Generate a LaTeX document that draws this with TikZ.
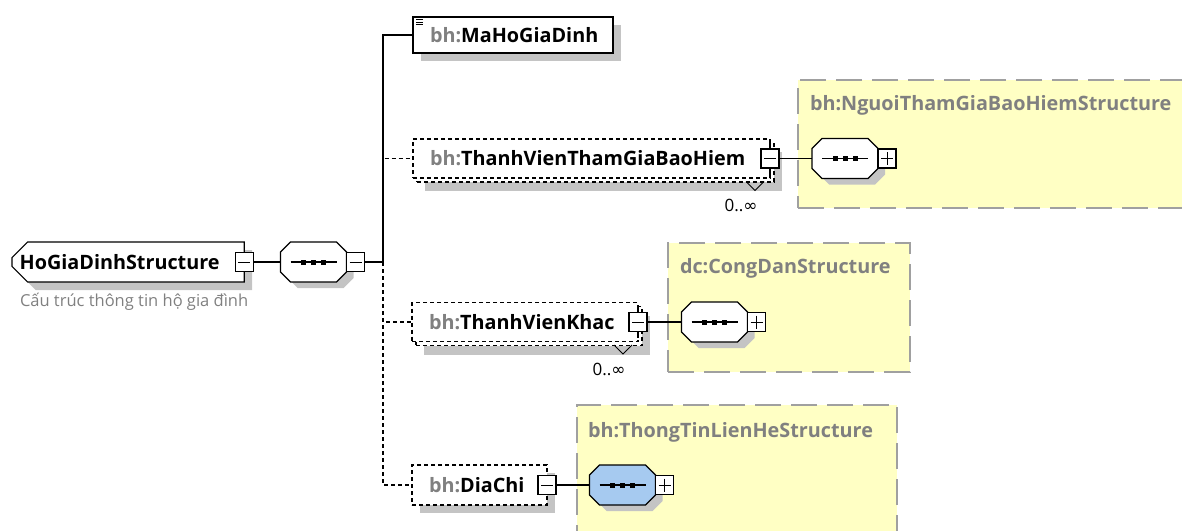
\documentclass[tikz,border=0pt]{standalone}
\usepackage{fontspec}
\setmainfont{Open Sans}
\newfontfamily\symfont{DejaVu Sans}
\usetikzlibrary{positioning, shapes.misc, shadows}
\definecolor{prefixgray}{RGB}{128,128,128}
\definecolor{typeyellow}{RGB}{255,255,196}
\definecolor{typeborder}{RGB}{160,160,160}
\definecolor{seqblue}{RGB}{166,202,240}
\definecolor{shadowgray}{RGB}{196,196,196}
\newcommand{\pfx}[1]{{\color{prefixgray}#1}}

\begin{document}
\begin{tikzpicture}[
        x=1pt, y=-1pt,
        line width=1.2pt,
        every node/.style={inner sep=0pt, outer sep=0pt},
        namefont/.style={font=\fontsize{19.8}{23}\selectfont\bfseries},
        elbox/.style={rectangle, draw, fill=white, namefont, anchor=west, align=left, inner xsep=17pt,
            drop shadow={shadow xshift=8pt, shadow yshift=-8pt, fill=shadowgray, opacity=1}},
        optbox/.style={elbox, dash pattern=on 4pt off 3pt},
        multibox/.style={rectangle, draw, fill=white, namefont, anchor=west, align=left, inner xsep=17pt,
            dash pattern=on 4pt off 3pt,
            drop shadow={shadow xshift=12pt, shadow yshift=-13pt, fill=shadowgray, opacity=1},
            copy shadow={shadow xshift=4pt, shadow yshift=-4pt, draw=black, fill=white, dash pattern=on 4pt off 3pt}},
        rootbox/.style={chamfered rectangle, chamfered rectangle corners={north west, south west},
            chamfered rectangle sep=8pt, draw, fill=white, namefont, anchor=west, align=left, inner xsep=0pt,
            drop shadow={shadow xshift=8pt, shadow yshift=-8pt, fill=shadowgray, opacity=1}},
        pmbox/.style={rectangle, draw, fill=white, minimum width=18pt, minimum height=19pt},
        pmminus/.style={pmbox, path picture={
            \draw[black, line width=1pt] ([xshift=3pt]path picture bounding box.west) -- ([xshift=-3pt]path picture bounding box.east);}},
        pmplus/.style={pmbox, path picture={
            \draw[black, line width=1pt] ([xshift=3pt]path picture bounding box.west) -- ([xshift=-3pt]path picture bounding box.east);
            \draw[black, line width=1pt] ([yshift=-3pt]path picture bounding box.north) -- ([yshift=3pt]path picture bounding box.south);}},
        seqbox/.style={chamfered rectangle, chamfered rectangle xsep=5pt, chamfered rectangle ysep=5pt,
            inner xsep=28pt, inner ysep=15pt, draw, fill=white,
            drop shadow={shadow xshift=7pt, shadow yshift=-6pt, fill=shadowgray, opacity=1},
            path picture={
                \draw[black, line width=1.2pt] ([xshift=-23pt]path picture bounding box.center) -- ([xshift=23pt]path picture bounding box.center);
                \fill[black] ([xshift=-10pt]path picture bounding box.center) +(-2.5,-2.5) rectangle +(2.5,2.5);
                \fill[black] (path picture bounding box.center) +(-2.5,-2.5) rectangle +(2.5,2.5);
                \fill[black] ([xshift=10pt]path picture bounding box.center) +(-2.5,-2.5) rectangle +(2.5,2.5);}},
        typebox/.style={rectangle, draw=typeborder, fill=typeyellow, line width=2pt,
            dash pattern=on 26pt off 10pt, anchor=north west},
        typetitle/.style={namefont, text=prefixgray, anchor=west},
        desc/.style={font=\fontsize{16.5}{19}\selectfont, text=prefixgray, anchor=west},
        mult/.style={font=\fontsize{17}{19}\selectfont},
        optline/.style={dash pattern=on 4pt off 3pt}
    ]
        \useasboundingbox (0,0) rectangle (1182,530);
        \clip (0,0) rectangle (1182,530);

        % complex types behind their sequences
        \node[typebox, minimum width=400pt, minimum height=128pt] (nguoi) at (798,80) {};
        \node[typetitle] (nguoititle) at (810,105) {bh:NguoiThamGiaBaoHiemStructure};
        \node[typebox, minimum width=242pt, minimum height=129pt] (congdan) at (668,243) {};
        \node[typetitle] (congdantitle) at (680,268) {dc:CongDanStructure};
        \node[typebox, minimum width=320pt, minimum height=140pt] (lienhe) at (577,405) {};
        \node[typetitle] (lienhetitle) at (588,432) {bh:ThongTinLienHeStructure};

        \node[rootbox, text width=217pt, minimum height=40pt] (root) at (12,262) {HoGiaDinhStructure};
        \node[pmminus] (rootm) at (root.east) {};
        \node[desc] (rootdesc) at (20,302) {Cấu trúc thông tin hộ gia đình};

        \node[seqbox] (seq1) at (313.5,262) {};
        \node[pmminus, anchor=west] (seq1m) at (seq1.east) {};
        \coordinate (bus) at (383,262);

        \node[elbox, text width=166pt, minimum height=36pt] (ma) at (413,35) {\pfx{bh:}MaHoGiaDinh};
        \draw[line width=1pt] ([shift={(3,2.5)}]ma.north west) -- ++(7,0)
            ([shift={(3,5)}]ma.north west) -- ++(7,0)
            ([shift={(3,7.5)}]ma.north west) -- ++(7,0);

        \node[multibox, text width=323pt, minimum height=39pt] (tv1) at (413,158.5) {\pfx{bh:}ThanhVienThamGiaBaoHiem};
        \node[pmminus] (tv1m) at (tv1.east) {};
        \draw (tv1m.north) -- ++(0,-6) (tv1m.south) -- ++(0,6);
        \draw[line width=1pt] ([shift={(-24,23)}]tv1m.center) -- ++(9,9) -- ++(9,-9);
        \node[mult] (tv1mult) at ([shift={(-29,47)}]tv1m.center) {0..{\symfont ∞}};
        \node[seqbox] (seq2) at (845,158.5) {};
        \node[pmplus, anchor=west] (seq2p) at (seq2.east) {};

        \node[multibox, text width=192pt, minimum height=39pt] (tv2) at (412,322) {\pfx{bh:}ThanhVienKhac};
        \node[pmminus] (tv2m) at (tv2.east) {};
        \draw (tv2m.north) -- ++(0,-6) (tv2m.south) -- ++(0,6);
        \draw[line width=1pt] ([shift={(-24,23)}]tv2m.center) -- ++(9,9) -- ++(9,-9);
        \node[mult] (tv2mult) at ([shift={(-29,47)}]tv2m.center) {0..{\symfont ∞}};
        \node[seqbox] (seq3) at (714.5,322) {};
        \node[pmplus, anchor=west] (seq3p) at (seq3.east) {};

        \node[optbox, text width=101pt, minimum height=40pt] (dc) at (412,485) {\pfx{bh:}DiaChi};
        \node[pmminus] (dcm) at (dc.east) {};
        \node[seqbox, fill=seqblue] (seq4) at (622.5,485) {};
        \node[pmplus, anchor=west] (seq4p) at (seq4.east) {};

        \draw (rootm.east) -- (seq1.west);
        \draw (seq1m.east) -- (bus);
        \draw (bus) |- (ma.west);
        \draw[optline] (bus) |- (tv1.west);
        \draw[optline] (bus) |- (tv2.west);
        \draw[optline] (bus) |- (dc.west);
        \draw (tv1m.east) -- (seq2.west);
        \draw (tv2m.east) -- (seq3.west);
        \draw (dcm.east) -- (seq4.west);
    \end{tikzpicture}
\end{document}
